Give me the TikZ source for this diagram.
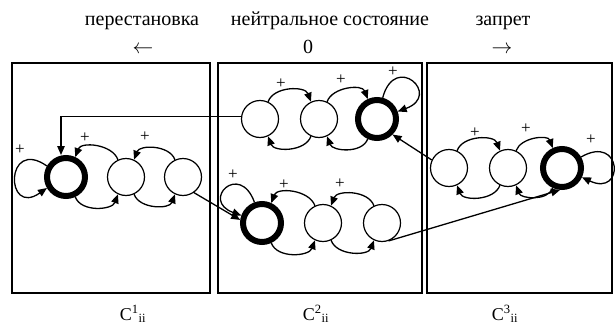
\documentclass[tikz,border=0pt]{standalone}
\usepackage{fontspec}
\setmainfont{Liberation Serif}
\usetikzlibrary{arrows.meta}
\tikzset{
  state/.style={circle, draw, line width=1.2pt, minimum size=37pt, inner sep=0pt},
  accept/.style={state, line width=6pt, minimum size=38pt},
  arr/.style={-{Triangle[length=9pt,width=7.5pt]}, line width=1.3pt},
  plus/.style={font=\fontsize{17}{17}\selectfont, inner sep=0pt},
  panel/.style={draw, line width=1.5pt},
  title/.style={font=\fontsize{20}{20}\selectfont, anchor=base, inner sep=0pt},
}
\begin{document}
\begin{tikzpicture}[x=1pt, y=1pt]
        \useasboundingbox (0,0) rectangle (615,325);
        % panels
        \draw[panel] (12,32) rectangle (210,262);
        \draw[panel] (218,32) rectangle (422,262);
        \draw[panel] (427,32) rectangle (612,262);
        % headings
        \node[title] (t1) at (142,300) {перестановка};
        \node[title] (t2) at (330,300) {нейтральное состояние};
        \node[title] (t3) at (503,300) {запрет};
        \node[title] (d1) at (143,272) {$\leftarrow$};
        \node[title] (d2) at (308,272) {0};
        \node[title] (d3) at (502,272) {$\rightarrow$};
        \node[title, font=\fontsize{18}{18}\selectfont] (c1) at (133,5) {C\textsuperscript{1}\textsubscript{ii}};
        \node[title, font=\fontsize{18}{18}\selectfont] (c2) at (316,5) {C\textsuperscript{2}\textsubscript{ii}};
        \node[title, font=\fontsize{18}{18}\selectfont] (c3) at (505,5) {C\textsuperscript{3}\textsubscript{ii}};
        % left panel
        \node[accept] (b1) at (66,148) {};
        \node[state] (a2) at (126,148) {};
        \node[state] (a3) at (183,148) {};
        \draw[arr] (b1.150) to[out=145,in=215,looseness=6] (b1.210);
        \draw[arr] (a2.115) to[out=110,in=70] (b1.65);
        \draw[arr] (a3.115) to[out=110,in=70] (a2.65);
        \draw[arr] (b1.-65) to[out=-70,in=-110] (a2.-115);
        \draw[arr] (a2.-65) to[out=-70,in=-110] (a3.-115);
        \node[plus] (p1) at (20,175) {+};
        \node[plus] (p2) at (85,187) {+};
        \node[plus] (p3) at (145,188) {+};
        % middle panel, upper row
        \node[state] (A) at (260,206) {};
        \node[state] (B) at (319,206) {};
        \node[accept] (C) at (377,206) {};
        \draw[arr] (A.65) to[out=70,in=110] (B.115);
        \draw[arr] (B.65) to[out=70,in=110] (C.115);
        \draw[arr] (B.-115) to[out=-110,in=-70] (A.-65);
        \draw[arr] (C.-115) to[out=-110,in=-70] (B.-65);
        \draw[arr] (C.75) to[out=75,in=20,looseness=6] (C.20);
        \node[plus] (p4) at (281,241) {+};
        \node[plus] (p5) at (341,245) {+};
        \node[plus] (p6) at (393,253) {+};
        % middle panel, lower row
        \node[accept] (D) at (262,102) {};
        \node[state] (E) at (323,102) {};
        \node[state] (F) at (382,102) {};
        \draw[arr] (E.115) to[out=110,in=70] (D.65);
        \draw[arr] (F.115) to[out=110,in=70] (E.65);
        \draw[arr] (D.-65) to[out=-70,in=-110] (E.-115);
        \draw[arr] (E.-65) to[out=-70,in=-110] (F.-115);
        \draw[arr] (D.110) to[out=110,in=160,looseness=6] (D.160);
        \node[plus] (p7) at (233,150) {+};
        \node[plus] (p8) at (284,140) {+};
        \node[plus] (p9) at (340,141) {+};
        % right panel
        \node[state] (G) at (449,157) {};
        \node[state] (H) at (508,157) {};
        \node[accept] (I) at (562,157) {};
        \draw[arr] (G.65) to[out=70,in=110] (H.115);
        \draw[arr] (H.65) to[out=70,in=110] (I.115);
        \draw[arr] (H.-115) to[out=-110,in=-70] (G.-65);
        \draw[arr] (I.-115) to[out=-110,in=-70] (H.-65);
        \draw[arr] (I.30) to[out=30,in=-25,looseness=6] (I.-25);
        \node[plus] (p10) at (475,192) {+};
        \node[plus] (p11) at (526,196) {+};
        \node[plus] (p12) at (591,185) {+};
        % transitions between panels
        \draw[arr] (A.172) -| ([xshift=-5pt]b1.north);
        \draw[arr] (a3.-55) -- (D.172);
        \draw[arr] (G.155) -- (C.-45);
        \draw[arr] (F.-70) -- (I.-95);
    \end{tikzpicture}
\end{document}
